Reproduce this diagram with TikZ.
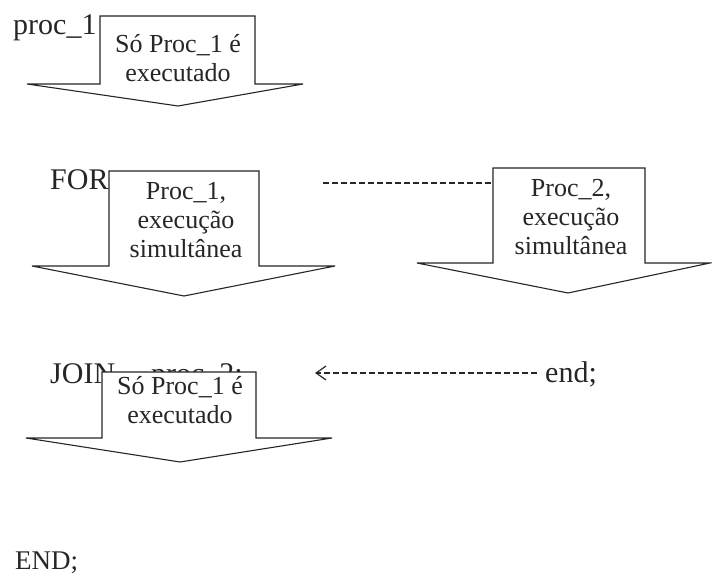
\documentclass[tikz,border=0pt]{standalone}
\usepackage{fontspec}
\setmainfont{Liberation Serif}
\usetikzlibrary{arrows.meta}
\begin{document}
\begin{tikzpicture}[x=1pt,y=-1pt,
  bigarrow/.style={draw=black!85, fill=white, line width=1.1pt, line join=miter},
  code/.style={inner sep=0, anchor=base west, font=\fontsize{30}{34}\selectfont, text=black!85},
  label/.style={inner sep=0, anchor=base, font=\fontsize{26}{29}\selectfont, text=black!85},
  link/.style={draw=black!85, line width=1.3pt, dash pattern=on 6pt off 3pt}]
\useasboundingbox (0,0) rectangle (712,577);

% program text (partly hidden behind the block arrows)
\node[code] (proc) at (13,35) {proc\_1};
\node[code] (for) at (50,190) {FOR};
\node[code] (join) at (50,383) {JOIN\hspace{1.2em}proc\_2;};
\node[code, font=\fontsize{27}{30}\selectfont] (endc) at (15,569) {END;};
\node[code] (endp) at (545,382) {end;};

% block arrows
\draw[bigarrow] (27,84) -- (100,84) -- (100,16) -- (255,16) -- (255,84) -- (303,84) -- (178,106) -- cycle;
\draw[bigarrow] (32,266) -- (109,266) -- (109,171) -- (259,171) -- (259,266) -- (335,266) -- (184,296) -- cycle;
\draw[bigarrow] (417,263) -- (493,263) -- (493,168) -- (645,168) -- (645,263) -- (710,263) -- (568,293) -- cycle;
\draw[bigarrow] (26,438) -- (102,438) -- (102,372) -- (256,372) -- (256,438) -- (332,438) -- (180,462) -- cycle;

% labels inside the arrows
\node[label] (l1) at (178,53) {\begin{tabular}[t]{@{}c@{}}Só Proc\_1 é\\executado\end{tabular}};
\node[label] (l2) at (186,200) {\begin{tabular}[t]{@{}c@{}}Proc\_1,\\execução\\simultânea\end{tabular}};
\node[label] (l3) at (571,197) {\begin{tabular}[t]{@{}c@{}}Proc\_2,\\execução\\simultânea\end{tabular}};
\node[label] (l4) at (180,394) {\begin{tabular}[t]{@{}c@{}}Só Proc\_1 é\\executado\end{tabular}};

% fork and join links
\coordinate (forkstart) at (323,183);
\coordinate (forkend) at (493,183);
\coordinate (joinmark) at (315,373);
\draw[link] (forkstart) -- (forkend);
\draw[link, -{Straight Barb[length=10pt,width=14pt,line width=1.2pt]}] ([xshift=-8pt]endp.west |- joinmark) -- (joinmark);
\end{tikzpicture}
\end{document}
